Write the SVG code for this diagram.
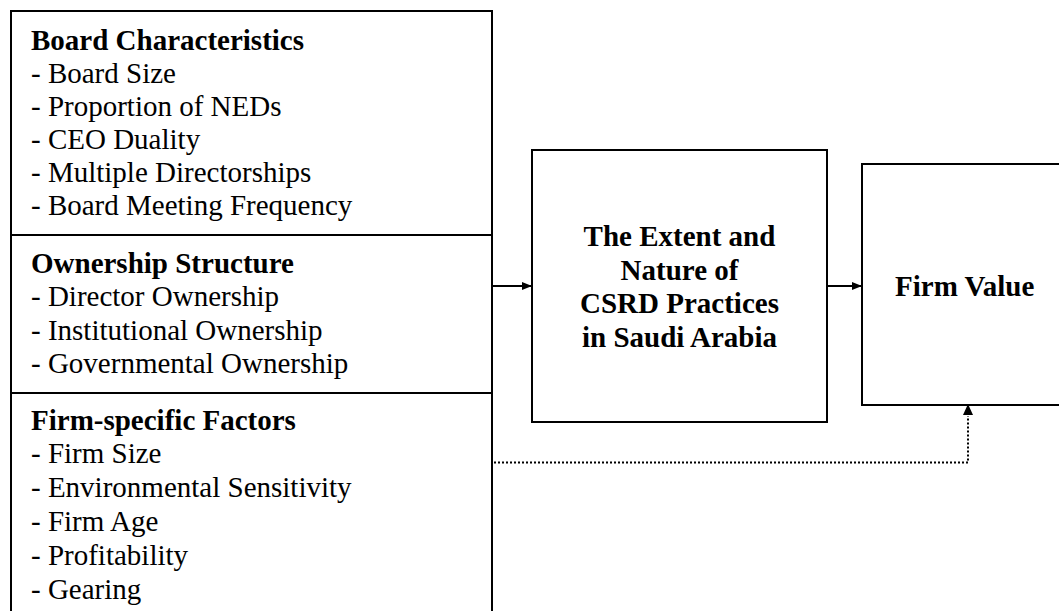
<svg xmlns="http://www.w3.org/2000/svg" width="1059" height="611" viewBox="0 0 1059 611">
<style>
.box{fill:#fff;stroke:#000;stroke-width:2}
.div{stroke:#000;stroke-width:2}
.t{font-family:"Liberation Serif","Times New Roman",serif;font-size:29px;fill:#000}
.b{font-weight:bold}
.c{text-anchor:middle}
.conn{stroke:#000;stroke-width:2;fill:none}
.dot{stroke:#000;stroke-width:2;fill:none;stroke-dasharray:2 2}
</style>
<defs>
<marker id="ah" viewBox="0 0 10 8" refX="10" refY="4" markerWidth="10" markerHeight="8" markerUnits="userSpaceOnUse" orient="auto">
<path d="M0,0 L10,4 L0,8 Z" fill="#000"/>
</marker>
</defs>
<rect width="1059" height="611" fill="#fff"/>
<g id="factors">
<rect class="box" x="11" y="11" width="481" height="620"/>
<line class="div" x1="11" y1="235" x2="492" y2="235"/>
<line class="div" x1="11" y1="393" x2="492" y2="393"/>
<g id="board">
<text class="t b" x="31" y="49.5">Board Characteristics</text>
<text class="t" x="31" y="82.7">- Board Size</text>
<text class="t" x="31" y="115.8">- Proportion of NEDs</text>
<text class="t" x="31" y="148.9">- CEO Duality</text>
<text class="t" x="31" y="182">- Multiple Directorships</text>
<text class="t" x="31" y="215.1">- Board Meeting Frequency</text>
</g>
<g id="ownership">
<text class="t b" x="31" y="272.7">Ownership Structure</text>
<text class="t" x="31" y="306">- Director Ownership</text>
<text class="t" x="31" y="339.5">- Institutional Ownership</text>
<text class="t" x="31" y="373">- Governmental Ownership</text>
</g>
<g id="firmspecific">
<text class="t b" x="31" y="430">Firm-specific Factors</text>
<text class="t" x="31" y="463.3">- Firm Size</text>
<text class="t" x="31" y="497">- Environmental Sensitivity</text>
<text class="t" x="31" y="531">- Firm Age</text>
<text class="t" x="31" y="565">- Profitability</text>
<text class="t" x="31" y="598.5">- Gearing</text>
</g>
</g>
<g id="csrd">
<rect class="box" x="532" y="150" width="295" height="272"/>
<text class="t b c" x="679.5" y="246">The Extent and</text>
<text class="t b c" x="679.5" y="279.5">Nature of</text>
<text class="t b c" x="679.5" y="313">CSRD Practices</text>
<text class="t b c" x="679.5" y="346.7">in Saudi Arabia</text>
</g>
<g id="firmvalue">
<rect class="box" x="862" y="164" width="206" height="241"/>
<text class="t b c" x="964.7" y="296">Firm Value</text>
</g>
<g id="connectors">
<line class="conn" x1="493" y1="286" x2="532" y2="286" marker-end="url(#ah)"/>
<line class="conn" x1="828" y1="286" x2="862" y2="286" marker-end="url(#ah)"/>
<path class="dot" d="M494,462.5 H968 V416"/>
<path d="M963,415 L968,404 L973,415 Z" fill="#000"/>
</g>
</svg>
